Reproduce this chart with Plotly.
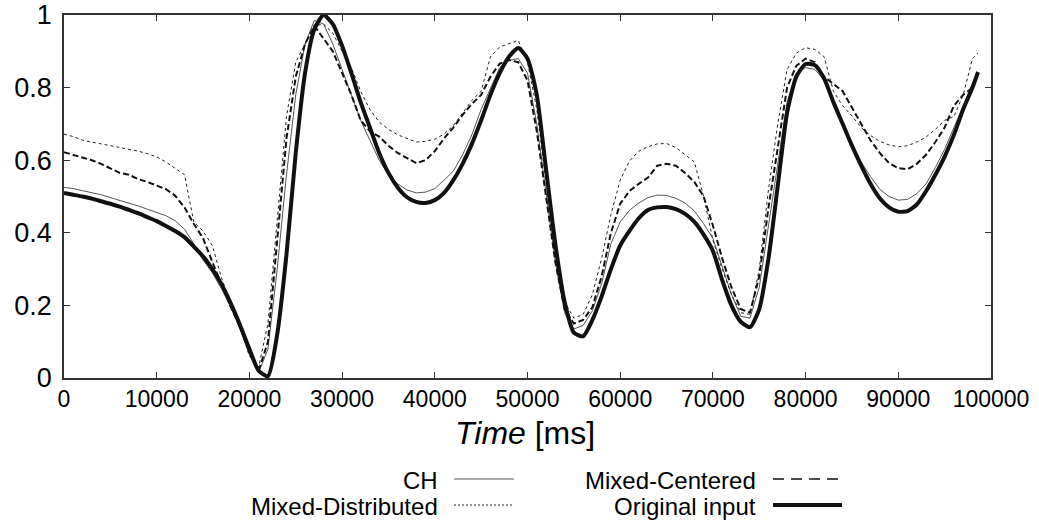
import plotly.graph_objects as go

time_ms = [i * 1000 for i in range(99)] + [98600]

original_input = [
    0.510, 0.505, 0.500, 0.494, 0.487, 0.480, 0.472, 0.463, 0.454, 0.443,
    0.432, 0.419, 0.405, 0.388, 0.362, 0.335, 0.300, 0.258, 0.205, 0.145,
    0.080, 0.020, 0.005, 0.120, 0.340, 0.620, 0.840, 0.960, 1.000, 0.975,
    0.915, 0.840, 0.760, 0.690, 0.620, 0.565, 0.525, 0.498, 0.485, 0.482,
    0.490, 0.510, 0.545, 0.590, 0.645, 0.710, 0.780, 0.840, 0.885, 0.909,
    0.880, 0.780, 0.575, 0.370, 0.210, 0.125, 0.115, 0.160, 0.225, 0.300,
    0.365, 0.405, 0.440, 0.463, 0.470, 0.471, 0.465, 0.452, 0.430, 0.395,
    0.350, 0.270, 0.200, 0.155, 0.140, 0.190, 0.330, 0.530, 0.730, 0.830,
    0.865, 0.862, 0.825, 0.760, 0.700, 0.640, 0.585, 0.535, 0.495, 0.470,
    0.458, 0.460, 0.478, 0.515, 0.560, 0.610, 0.670, 0.740, 0.800, 0.843,
]

ch = [
    0.525, 0.522, 0.516, 0.511, 0.505, 0.497, 0.490, 0.481, 0.474, 0.465,
    0.457, 0.447, 0.433, 0.410, 0.370, 0.325, 0.290, 0.245, 0.195, 0.135,
    0.065, 0.015, 0.080, 0.300, 0.560, 0.780, 0.920, 0.985, 0.975, 0.920,
    0.850, 0.780, 0.710, 0.655, 0.600, 0.560, 0.535, 0.518, 0.510, 0.512,
    0.522, 0.545, 0.570, 0.615, 0.670, 0.740, 0.800, 0.855, 0.875, 0.880,
    0.840, 0.700, 0.510, 0.320, 0.180, 0.135, 0.145, 0.185, 0.260, 0.370,
    0.430, 0.462, 0.482, 0.497, 0.504, 0.503, 0.495, 0.482, 0.460, 0.425,
    0.385, 0.310, 0.230, 0.170, 0.165, 0.250, 0.420, 0.600, 0.760, 0.840,
    0.855, 0.850, 0.820, 0.760, 0.700, 0.645, 0.595, 0.555, 0.520, 0.500,
    0.490, 0.492, 0.508, 0.535, 0.580, 0.630, 0.690, 0.750, 0.810, 0.835,
]

mixed_centered = [
    0.622, 0.615, 0.608, 0.600, 0.590, 0.578, 0.565, 0.560, 0.548, 0.540,
    0.530, 0.520, 0.502, 0.470, 0.425, 0.385, 0.320, 0.255, 0.195, 0.140,
    0.070, 0.020, 0.100, 0.380, 0.660, 0.830, 0.920, 0.970, 0.935, 0.900,
    0.840, 0.780, 0.710, 0.680, 0.665, 0.640, 0.620, 0.605, 0.592, 0.600,
    0.625, 0.660, 0.690, 0.725, 0.755, 0.780, 0.830, 0.866, 0.876, 0.870,
    0.820, 0.680, 0.500, 0.320, 0.190, 0.150, 0.160, 0.195, 0.280, 0.400,
    0.480, 0.515, 0.535, 0.552, 0.585, 0.590, 0.585, 0.565, 0.540, 0.500,
    0.420, 0.330, 0.250, 0.190, 0.180, 0.280, 0.470, 0.640, 0.800, 0.860,
    0.880, 0.870, 0.830, 0.810, 0.790, 0.745, 0.700, 0.655, 0.620, 0.592,
    0.578, 0.575, 0.590, 0.615, 0.650, 0.690, 0.750, 0.780, 0.800, 0.840,
]

mixed_distributed = [
    0.672, 0.665, 0.655, 0.650, 0.645, 0.640, 0.636, 0.632, 0.625, 0.618,
    0.609, 0.595, 0.578, 0.560, 0.430, 0.405, 0.365, 0.275, 0.205, 0.140,
    0.060, 0.030, 0.150, 0.430, 0.720, 0.870, 0.920, 0.970, 0.975, 0.950,
    0.900, 0.855, 0.790, 0.740, 0.705, 0.685, 0.670, 0.660, 0.650, 0.652,
    0.658, 0.672, 0.695, 0.730, 0.765, 0.790, 0.885, 0.912, 0.922, 0.930,
    0.870, 0.740, 0.540, 0.350, 0.210, 0.165, 0.175, 0.230, 0.330, 0.450,
    0.545, 0.598, 0.625, 0.637, 0.645, 0.646, 0.635, 0.615, 0.595, 0.500,
    0.380, 0.300, 0.230, 0.180, 0.175, 0.300, 0.520, 0.700, 0.850, 0.895,
    0.910, 0.905, 0.885, 0.790, 0.750, 0.722, 0.690, 0.668, 0.652, 0.642,
    0.637, 0.640, 0.650, 0.664, 0.685, 0.710, 0.720, 0.780, 0.880, 0.895,
]

series_names = ["CH", "Mixed-Distributed", "Mixed-Centered", "Original input"]
x_tick_values = [i * 10000 for i in range(11)]
x_tick_labels = [str(v) for v in x_tick_values]
y_tick_values = [0, 0.2, 0.4, 0.6, 0.8, 1]
y_tick_labels = ["0", "0.2", "0.4", "0.6", "0.8", "1"]

FONT = "Liberation Sans, Arial, Helvetica, sans-serif"
# body margin is removed by the post script, so figure pixels == page pixels
W, H = 1039, 525
PLOT_L, PLOT_R, PLOT_T, PLOT_B = 64, 991, 15, 378
L, T = PLOT_L, PLOT_T
R, B = W - PLOT_R, H - PLOT_B
PW, PH = PLOT_R - PLOT_L, PLOT_B - PLOT_T


def px(xpage):
    return (xpage - PLOT_L) / PW


def py(ypage):
    return (PLOT_B - ypage) / PH


styles = {
    "CH": dict(color="#555555", width=1),
    "Mixed-Distributed": dict(color="#222222", width=1, dash="dot"),
    "Mixed-Centered": dict(color="#111111", width=2, dash="6px,3px"),
    "Original input": dict(color="#111111", width=4, shape="spline", smoothing=0.6),
}
legend_dash = {
    "CH": "solid",
    "Mixed-Distributed": "2px,2px",
    "Mixed-Centered": "11px,7px",
    "Original input": "solid",
}
legend_width = {"CH": 1, "Mixed-Distributed": 1, "Mixed-Centered": 1.5, "Original input": 4}
data_map = {
    "CH": ch,
    "Mixed-Distributed": mixed_distributed,
    "Mixed-Centered": mixed_centered,
    "Original input": original_input,
}

fig = go.Figure()
for name in series_names:
    fig.add_trace(go.Scatter(x=time_ms, y=data_map[name], mode="lines",
                             name=name, line=styles[name], showlegend=False,
                             hoverinfo="skip"))

fig.update_layout(
    width=W, height=H,
    margin=dict(l=L, r=R, t=T, b=B, pad=0, autoexpand=False),
    paper_bgcolor="white", plot_bgcolor="white",
    font=dict(family=FONT, color="black"),
    showlegend=False,
)
fig.update_xaxes(
    range=[0, 100000], tickvals=x_tick_values, ticktext=x_tick_labels,
    ticks="inside", ticklen=6, tickcolor="#333", tickwidth=1,
    showline=True, linecolor="#333", linewidth=1.5, mirror="ticks",
    showgrid=False, zeroline=False, tickfont=dict(size=23, family=FONT),
    automargin=False, ticklabeloverflow="allow",
)
fig.update_yaxes(
    range=[0, 1], tickvals=y_tick_values, ticktext=y_tick_labels,
    ticks="inside", ticklen=6, tickcolor="#333", tickwidth=1,
    showline=True, linecolor="#333", linewidth=1.5, mirror="ticks",
    showgrid=False, zeroline=False, tickfont=dict(size=27, family=FONT),
    ticklabelstandoff=5, automargin=False, ticklabeloverflow="allow",
)

annotations = [
    dict(text="<i>Time</i> [ms]", x=px(525), y=py(433), xref="paper", yref="paper",
         xanchor="center", yanchor="middle", showarrow=False,
         font=dict(size=32, family=FONT, color="black")),
]
legend_rows = [
    ("CH", 440, 480, 454, 514),
    ("Mixed-Distributed", 440, 506, 454, 514),
    ("Mixed-Centered", 758, 480, 773, 842),
    ("Original input", 758, 506, 773, 842),
]
shapes = []
for name, tx, ty, lx0, lx1 in legend_rows:
    annotations.append(dict(text=name, x=px(tx), y=py(ty), xref="paper", yref="paper",
                            xanchor="right", yanchor="middle", showarrow=False,
                            font=dict(size=24, family=FONT, color="black")))
    shapes.append(dict(type="line", xref="paper", yref="paper",
                       x0=px(lx0), x1=px(lx1), y0=py(ty - 1), y1=py(ty - 1),
                       line=dict(color=styles[name]["color"], width=legend_width[name],
                                 dash=legend_dash[name])))
fig.update_layout(annotations=annotations, shapes=shapes)

fig.write_html(
    "out.html",
    config={"displayModeBar": False},
    post_script="document.body.style.margin='0px';document.body.style.overflow='hidden';",
)
